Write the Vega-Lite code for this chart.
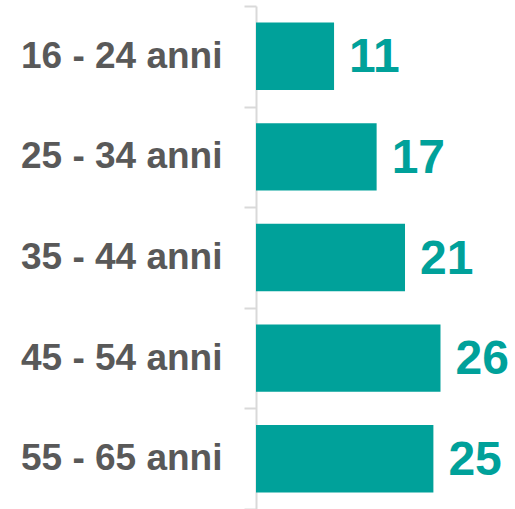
{
  "$schema": "https://vega.github.io/schema/vega-lite/v6.json",
  "width": 259,
  "height": 503,
  "autosize": {"type": "none"},
  "padding": {"left": 256, "top": 6, "right": 0, "bottom": 0},
  "background": "#ffffff",
  "config": {"view": {"stroke": null}},
  "data": {
    "values": [
      {"age": "16 - 24 anni", "value": 11},
      {"age": "25 - 34 anni", "value": 17},
      {"age": "35 - 44 anni", "value": 21},
      {"age": "45 - 54 anni", "value": 26},
      {"age": "55 - 65 anni", "value": 25}
    ]
  },
  "encoding": {
    "y": {
      "field": "age",
      "type": "nominal",
      "sort": null,
      "scale": {"paddingInner": 0, "paddingOuter": 0},
      "axis": {
        "title": null,
        "tickBand": "extent",
        "domainColor": "#d9d9d9",
        "domainWidth": 2,
        "tickColor": "#d9d9d9",
        "tickWidth": 2,
        "tickSize": 12,
        "labelPadding": 22,
        "labelFont": "Liberation Sans",
        "labelFontWeight": "bold",
        "labelFontSize": 37,
        "labelColor": "#595959",
        "labelLimit": 300
      }
    },
    "x": {
      "field": "value",
      "type": "quantitative",
      "scale": {"domain": [0, 36.5], "nice": false},
      "axis": null
    }
  },
  "layer": [
    {
      "mark": {"type": "bar", "color": "#00A19A", "height": {"band": 0.67}}
    },
    {
      "mark": {
        "type": "text",
        "align": "left",
        "baseline": "middle",
        "dx": 15,
        "dy": 2,
        "font": "Liberation Sans",
        "fontWeight": "bold",
        "fontSize": 48,
        "color": "#00A19A"
      },
      "encoding": {"text": {"field": "value", "type": "quantitative"}}
    }
  ]
}
